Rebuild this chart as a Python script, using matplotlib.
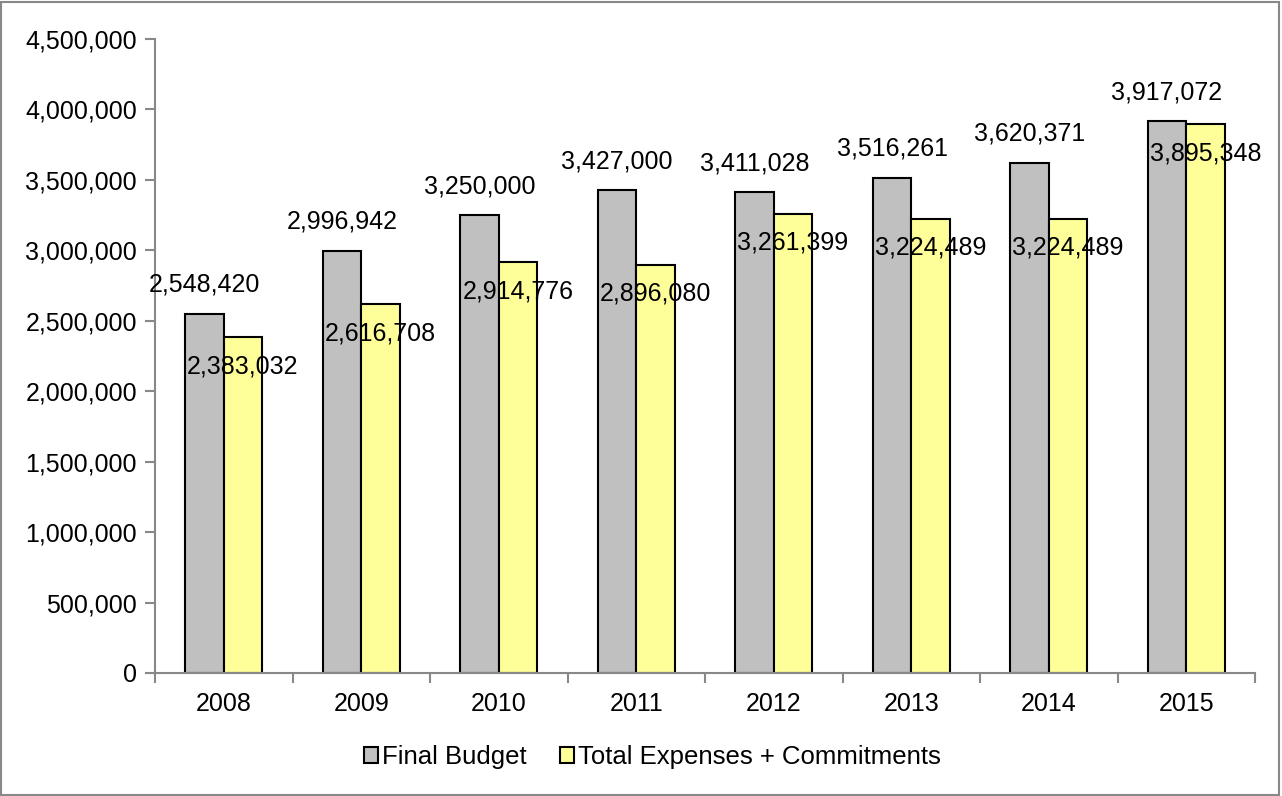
import matplotlib
matplotlib.use("Agg")
import matplotlib.pyplot as plt
from matplotlib.patches import Rectangle
from matplotlib.ticker import FuncFormatter, MultipleLocator, FixedLocator
import numpy as np

years = ["2008", "2009", "2010", "2011", "2012", "2013", "2014", "2015"]
final_budget = [2548420, 2996942, 3250000, 3427000, 3411028, 3516261, 3620371, 3917072]
total_exp = [2383032, 2616708, 2914776, 2896080, 3261399, 3224489, 3224489, 3895348]

plt.rcParams['font.family'] = ['Liberation Sans', 'DejaVu Sans']

fig = plt.figure(figsize=(12.82, 7.96), dpi=100)
ax = fig.add_axes([155/1282, 1-673/796, 1100/1282, 634/796])

x = np.arange(len(years))
w = 0.28
b1 = ax.bar(x - w/2, final_budget, w, color='#C0C0C0', edgecolor='black', linewidth=1.5, label='Final Budget')
b2 = ax.bar(x + w/2, total_exp, w, color='#FFFF99', edgecolor='black', linewidth=1.5, label='Total Expenses + Commitments')

fs = 18
for xi, v in zip(x, final_budget):
    ax.annotate(f"{v:,}", (xi - w/2, v), xytext=(0, 29), textcoords='offset pixels',
                ha='center', va='center', fontsize=fs)
for xi, v in zip(x, total_exp):
    ax.annotate(f"{v:,}", (xi + w/2, v), xytext=(0, -29), textcoords='offset pixels',
                ha='center', va='center', fontsize=fs)

ax.set_xlim(-0.5, len(years) - 0.5)
ax.set_ylim(0, 4500000)
ax.yaxis.set_major_locator(MultipleLocator(500000))
ax.yaxis.set_major_formatter(FuncFormatter(lambda v, p: f"{int(v):,}"))
ax.set_xticks(x)
ax.set_xticklabels(years)
ax.xaxis.set_minor_locator(FixedLocator(np.arange(-0.5, len(years), 1.0)))
ax.tick_params(axis='x', which='major', length=0, pad=14, labelsize=fs)
ax.tick_params(axis='x', which='minor', length=7, color='#888888', width=1.5, direction='out')
ax.tick_params(axis='y', which='major', length=7, color='#888888', width=1.5, direction='out', labelsize=fs, pad=6)

for s in ['top', 'right']:
    ax.spines[s].set_visible(False)
for s in ['left', 'bottom']:
    ax.spines[s].set_color('#888888')
    ax.spines[s].set_linewidth(1.5)

leg = fig.legend(handles=[b1, b2], loc='center', bbox_to_anchor=(652/1282, 1-757/796), ncol=2,
                 frameon=False, fontsize=18.5, handlelength=0.55, handleheight=0.55,
                 handletextpad=0.15, columnspacing=1.3)

fig.patches.append(Rectangle((0.001, 0.001), 0.997, 0.997, transform=fig.transFigure,
                             fill=False, edgecolor='#888888', linewidth=1.5))

fig.savefig("out.png", dpi=100)
